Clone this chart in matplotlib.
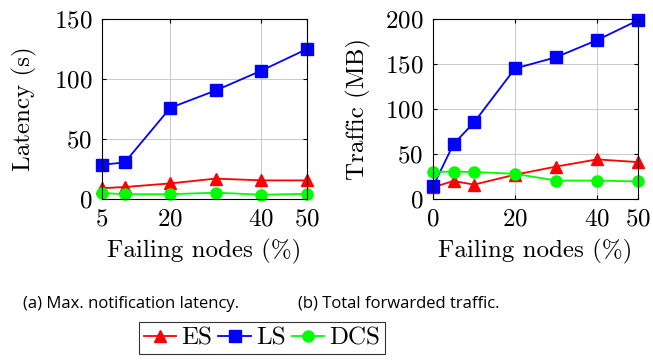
import matplotlib
matplotlib.use("Agg")
import matplotlib.pyplot as plt
from matplotlib.lines import Line2D

plt.rcParams['font.family'] = ['cmr10', 'DejaVu Serif']
plt.rcParams['mathtext.fontset'] = 'cm'
plt.rcParams['axes.formatter.use_mathtext'] = True

# (a) max notification latency
lat_x = [5, 10, 20, 30, 40, 50]
lat_es = [9, 10, 13, 17, 15.5, 15.5]
lat_ls = [28.5, 30.5, 76, 90.5, 107, 125]
lat_dcs = [5, 4, 4, 5.3, 3.6, 4.3]

# (b) total forwarded traffic
trf_x = [0, 5, 10, 20, 30, 40, 50]
trf_es = [13, 20, 16, 27, 36, 44, 41]
trf_ls = [14, 61, 85, 145, 157.5, 176.5, 198.5]
trf_dcs = [30, 30.5, 30, 28, 20.5, 20.5, 19.5]

styles = {
    'ES': dict(color='red', marker='^', markersize=8),
    'LS': dict(color='blue', marker='s', markersize=8),
    'DCS': dict(color='#00ff00', marker='o', markersize=8),
}

fig = plt.figure(figsize=(6.53, 3.61), dpi=100)
W, H = 653, 361
FS = 18


def make_ax(left):
    ax = fig.add_axes([left / W, 1 - 199 / H, 205 / W, 180 / H])
    ax.grid(True, color='#c0c0c0', linewidth=0.6)
    ax.set_axisbelow(True)
    ax.tick_params(direction='in', top=True, right=True, length=3,
                   labelsize=FS, pad=7)
    for s in ax.spines.values():
        s.set_linewidth(0.8)
    return ax


ax1 = make_ax(102)
ax1.plot(lat_x, lat_es, lw=1.3, clip_on=False, **styles['ES'])
ax1.plot(lat_x, lat_ls, lw=1.3, clip_on=False, **styles['LS'])
ax1.plot(lat_x, lat_dcs, lw=1.3, clip_on=False, **styles['DCS'])
ax1.set_xlim(5, 50)
ax1.set_ylim(0, 150)
ax1.set_xticks([5, 20, 40, 50])
ax1.set_yticks([0, 50, 100, 150])
ax1.set_xlabel('Failing nodes (%)', fontsize=FS, labelpad=6)
ax1.set_ylabel('Latency (s)', fontsize=FS, labelpad=12)

ax2 = make_ax(433)
ax2.plot(trf_x, trf_es, lw=1.3, clip_on=False, **styles['ES'])
ax2.plot(trf_x, trf_ls, lw=1.3, clip_on=False, **styles['LS'])
ax2.plot(trf_x, trf_dcs, lw=1.3, clip_on=False, **styles['DCS'])
ax2.set_xlim(0, 50)
ax2.set_ylim(0, 200)
ax2.set_xticks([0, 20, 40, 50])
ax2.set_yticks([0, 50, 100, 150, 200])
ax2.set_xlabel('Failing nodes (%)', fontsize=FS, labelpad=6)
ax2.set_ylabel('Traffic (MB)', fontsize=FS, labelpad=10)

cap_font = ['Open Sans', 'Lato']
fig.text(23 / W, 1 - 304 / H, '(a) Max. notification latency.',
         fontsize=12, family=cap_font, va='center', ha='left')
fig.text(298 / W, 1 - 304 / H, '(b) Total forwarded traffic.',
         fontsize=12, family=cap_font, va='center', ha='left')

handles = [Line2D([], [], lw=1.3, **styles[k]) for k in ['ES', 'LS', 'DCS']]
leg = fig.legend(handles, ['ES', 'LS', 'DCS'], loc='center',
                 bbox_to_anchor=(262 / W, 1 - 338 / H), ncol=3,
                 fontsize=FS, frameon=True, fancybox=False,
                 edgecolor='black', handlelength=1.3, handletextpad=0.2,
                 columnspacing=0.25, borderpad=0.2, borderaxespad=0)
leg.get_frame().set_linewidth(0.8)

fig.savefig('out.png', dpi=100)
